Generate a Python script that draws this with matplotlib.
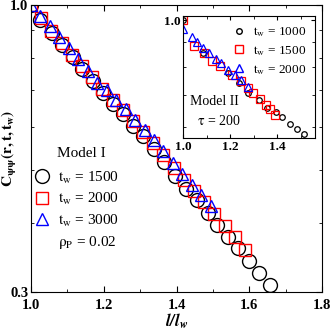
import matplotlib
matplotlib.use("Agg")
import matplotlib.pyplot as plt
from matplotlib.lines import Line2D
from matplotlib.ticker import NullFormatter

plt.rcParams['font.family'] = ['Liberation Serif', 'DejaVu Serif']
plt.rcParams['mathtext.fontset'] = 'stix'

# main panel, Model I
x_1500 = [1.0, 1.025, 1.058, 1.085, 1.115, 1.140, 1.170, 1.198, 1.225, 1.253, 1.280, 1.308,
          1.338, 1.366, 1.396, 1.426, 1.457, 1.487, 1.511, 1.542, 1.569, 1.599, 1.627, 1.657]
y_1500 = [1.0, 0.939, 0.888, 0.845, 0.803, 0.766, 0.728, 0.690, 0.661, 0.634, 0.602, 0.577,
          0.547, 0.517, 0.488, 0.462, 0.441, 0.417, 0.398, 0.378, 0.360, 0.342, 0.325, 0.309]

x_2000 = [1.0, 1.028, 1.056, 1.084, 1.112, 1.140, 1.168, 1.196, 1.224, 1.252, 1.280,
          1.308, 1.336, 1.364, 1.392, 1.420, 1.448, 1.476, 1.504, 1.532, 1.560, 1.588]
y_2000 = [1.0, 0.945, 0.897, 0.853, 0.812, 0.775, 0.738, 0.703, 0.672, 0.644, 0.615,
          0.588, 0.560, 0.532, 0.505, 0.480, 0.458, 0.437, 0.416, 0.396, 0.377, 0.357]

x_3000 = [1.0, 1.026, 1.052, 1.078, 1.104, 1.130, 1.156, 1.182, 1.208, 1.234,
          1.260, 1.286, 1.312, 1.338, 1.364, 1.390, 1.416, 1.442, 1.468, 1.494]
y_3000 = [1.0, 0.955, 0.915, 0.873, 0.835, 0.798, 0.758, 0.722, 0.700, 0.672,
          0.645, 0.617, 0.593, 0.567, 0.541, 0.515, 0.492, 0.470, 0.450, 0.430]

# inset, Model II
xi_1000 = [1.0, 1.085, 1.191, 1.238, 1.277, 1.323, 1.357, 1.396, 1.421, 1.455, 1.485, 1.515]
yi_1000 = [1.0, 0.854, 0.776, 0.740, 0.705, 0.682, 0.659, 0.644, 0.629, 0.608, 0.594, 0.580]

xi_1500 = [1.0, 1.047, 1.089, 1.123, 1.157, 1.209, 1.247, 1.277, 1.298, 1.328, 1.353, 1.370, 1.391]
yi_1500 = [1.0, 0.883, 0.854, 0.822, 0.802, 0.769, 0.747, 0.722, 0.708, 0.685, 0.666, 0.656, 0.635]

xi_2000 = [1.0, 1.038, 1.060, 1.085, 1.111, 1.140, 1.162, 1.191, 1.221, 1.247, 1.277]
yi_2000 = [0.958, 0.922, 0.900, 0.875, 0.854, 0.830, 0.814, 0.787, 0.769, 0.750, 0.726]

fig = plt.figure(figsize=(3.32, 3.31), dpi=100)
ax = fig.add_axes([0.0934, 0.118, 0.877, 0.867])

ax.plot(x_1500, y_1500, 'o', ms=10, mfc='none', mec='black', mew=1.0)
ax.plot(x_2000, y_2000, 's', ms=9, mfc='none', mec='red', mew=1.0)
ax.plot(x_3000, y_3000, '^', ms=9, mfc='none', mec='blue', mew=1.0)

ax.set_yscale('log')
ax.set_xlim(1.0, 1.8)
ax.set_ylim(0.3, 1.0)
ax.set_xticks([1.0, 1.2, 1.4, 1.6, 1.8])
ax.set_xticks([1.1, 1.3, 1.5, 1.7], minor=True)
ax.set_xticklabels(['1.0', '1.2', '1.4', '1.6', '1.8'])
ax.set_yticks([0.3, 1.0])
ax.set_yticklabels(['0.3', '1.0'])
ax.set_yticks([0.4, 0.5, 0.6, 0.7, 0.8, 0.9], minor=True)
ax.yaxis.set_minor_formatter(NullFormatter())
ax.tick_params(which='both', direction='in', top=True, right=True, labelsize=10.5, pad=2)
ax.tick_params(axis='x', which='major', pad=5)
ax.tick_params(which='major', length=4)
ax.tick_params(which='minor', length=2.5)
for lab in ax.get_xticklabels() + ax.get_yticklabels():
    lab.set_fontweight('bold')

ax.set_xlabel(r'$\mathbfit{l/l_w}$', fontsize=12, labelpad=0)
ax.set_ylabel(r'$\mathbf{C_{\psi\psi}(r,t,t_w)}$', fontsize=11)
ax.yaxis.set_label_coords(-0.04, 0.5)

handles = [Line2D([], [], ls='none', marker='o', ms=10, mfc='none', mec='black'),
           Line2D([], [], ls='none', marker='s', ms=9, mfc='none', mec='red'),
           Line2D([], [], ls='none', marker='^', ms=9, mfc='none', mec='blue')]
labels = [r'$\mathrm{t_w}$ = 1500', r'$\mathrm{t_w}$ = 2000', r'$\mathrm{t_w}$ = 3000']
ax.legend(handles, labels, loc='upper left', bbox_to_anchor=(-0.01, 0.447), frameon=False,
          fontsize=11, handlelength=1.0, handletextpad=0.55, labelspacing=0.35,
          borderaxespad=0.0)
ax.text(0.089, 0.484, 'Model I', transform=ax.transAxes, fontsize=11, va='center')
ax.text(0.093, 0.171, r'$\mathrm{\rho_P}$ = 0.02', transform=ax.transAxes, fontsize=11,
        va='center')

# inset
axi = fig.add_axes([0.551, 0.583, 0.398, 0.369])
axi.plot(xi_1000, yi_1000, 'o', ms=4, mfc='none', mec='black', mew=0.9)
axi.plot(xi_1500, yi_1500, 's', ms=5.5, mfc='none', mec='red', mew=0.9)
axi.plot(xi_2000, yi_2000, '^', ms=5.5, mfc='none', mec='blue', mew=0.9)
axi.set_yscale('log')
axi.set_xlim(1.0, 1.56)
axi.set_ylim(0.57, 1.02)
axi.set_xticks([1.0, 1.2, 1.4])
axi.set_xticks([1.1, 1.3, 1.5], minor=True)
axi.set_xticklabels(['1.0', '1.2', '1.4'])
axi.set_yticks([1.0])
axi.set_yticklabels(['1.0'])
axi.set_yticks([0.6, 0.7, 0.8, 0.9], minor=True)
axi.yaxis.set_minor_formatter(NullFormatter())
axi.tick_params(which='both', direction='in', top=True, right=True, labelsize=9.5, pad=2)
axi.tick_params(which='major', length=3)
axi.tick_params(which='minor', length=2)
for lab in axi.get_xticklabels() + axi.get_yticklabels():
    lab.set_fontweight('bold')

ihandles = [Line2D([], [], ls='none', marker='o', ms=4, mfc='none', mec='black'),
            Line2D([], [], ls='none', marker='s', ms=5.5, mfc='none', mec='red'),
            Line2D([], [], ls='none', marker='^', ms=5.5, mfc='none', mec='blue')]
ilabels = [r'$\mathrm{t_w}$ = 1000', r'$\mathrm{t_w}$ = 1500', r'$\mathrm{t_w}$ = 2000']
axi.legend(ihandles, ilabels, loc='upper right', frameon=False, fontsize=9.5,
           handlelength=1.0, handletextpad=0.5, labelspacing=0.38, borderaxespad=0.3)
axi.text(0.053, 0.295, 'Model II', transform=axi.transAxes, fontsize=10, va='center')
axi.text(0.11, 0.14, r'$\mathrm{\tau}$ = 200', transform=axi.transAxes, fontsize=10,
         va='center')

fig.savefig('out.png', dpi=100)
